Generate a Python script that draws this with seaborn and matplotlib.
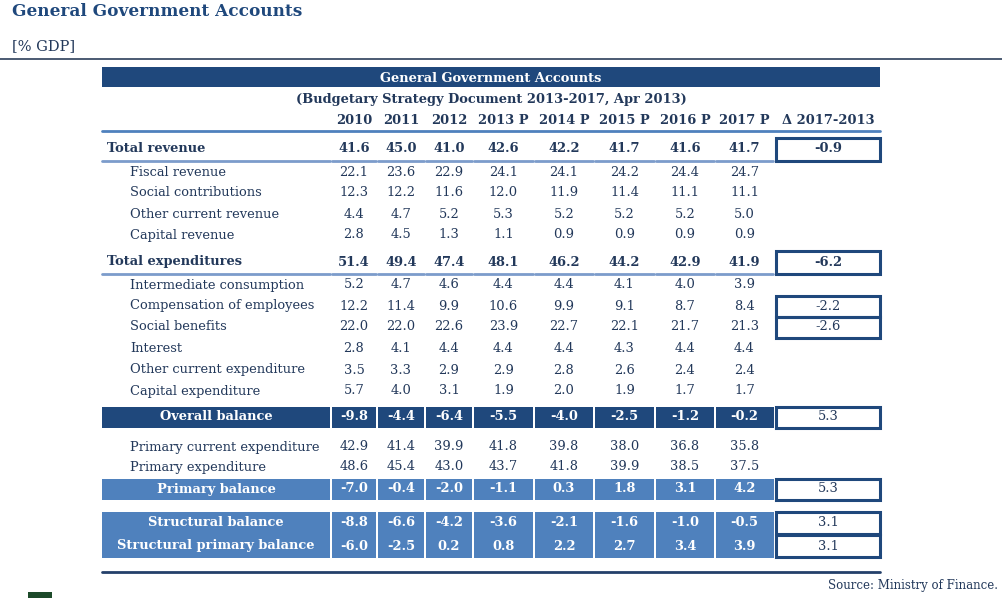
import matplotlib
matplotlib.use("Agg")
import matplotlib.pyplot as plt
from matplotlib.patches import Rectangle
import seaborn as sns

# ---- data ----
years = ["2010", "2011", "2012", "2013 P", "2014 P", "2015 P", "2016 P", "2017 P"]
delta_header = "\u0394 2017-2013"

row_labels = [
    "Total revenue", "Fiscal revenue", "Social contributions", "Other current revenue",
    "Capital revenue", "Total expenditures", "Intermediate consumption",
    "Compensation of employees", "Social benefits", "Interest",
    "Other current expenditure", "Capital expenditure", "Overall balance",
    "Primary current expenditure", "Primary expenditure", "Primary balance",
    "Structural balance", "Structural primary balance",
]
row_kinds = [
    "total", "item", "item", "item", "item", "total", "item", "item", "item", "item",
    "item", "item", "dark", "item", "item", "light", "light", "light",
]
values = [
    [41.6, 45.0, 41.0, 42.6, 42.2, 41.7, 41.6, 41.7],
    [22.1, 23.6, 22.9, 24.1, 24.1, 24.2, 24.4, 24.7],
    [12.3, 12.2, 11.6, 12.0, 11.9, 11.4, 11.1, 11.1],
    [4.4, 4.7, 5.2, 5.3, 5.2, 5.2, 5.2, 5.0],
    [2.8, 4.5, 1.3, 1.1, 0.9, 0.9, 0.9, 0.9],
    [51.4, 49.4, 47.4, 48.1, 46.2, 44.2, 42.9, 41.9],
    [5.2, 4.7, 4.6, 4.4, 4.4, 4.1, 4.0, 3.9],
    [12.2, 11.4, 9.9, 10.6, 9.9, 9.1, 8.7, 8.4],
    [22.0, 22.0, 22.6, 23.9, 22.7, 22.1, 21.7, 21.3],
    [2.8, 4.1, 4.4, 4.4, 4.4, 4.3, 4.4, 4.4],
    [3.5, 3.3, 2.9, 2.9, 2.8, 2.6, 2.4, 2.4],
    [5.7, 4.0, 3.1, 1.9, 2.0, 1.9, 1.7, 1.7],
    [-9.8, -4.4, -6.4, -5.5, -4.0, -2.5, -1.2, -0.2],
    [42.9, 41.4, 39.9, 41.8, 39.8, 38.0, 36.8, 35.8],
    [48.6, 45.4, 43.0, 43.7, 41.8, 39.9, 38.5, 37.5],
    [-7.0, -0.4, -2.0, -1.1, 0.3, 1.8, 3.1, 4.2],
    [-8.8, -6.6, -4.2, -3.6, -2.1, -1.6, -1.0, -0.5],
    [-6.0, -2.5, 0.2, 0.8, 2.2, 2.7, 3.4, 3.9],
]
deltas = {
    "Total revenue": -0.9, "Total expenditures": -6.2,
    "Compensation of employees": -2.2, "Social benefits": -2.6,
    "Overall balance": 5.3, "Primary balance": 5.3,
    "Structural balance": 3.1, "Structural primary balance": 3.1,
}

# ---- layout (pixel space) ----
row_y = [149, 172, 193, 214, 235, 262, 285, 306, 327, 349, 370, 391,
         417, 447, 467, 489, 523, 546]
row_h = [23, 21, 21, 21, 21, 23, 21, 21, 21, 21, 21, 21,
         21, 20, 20, 21, 23, 23]
col_edges = [331, 377, 425, 473, 534, 594, 655, 715, 774]
label_x0, label_x1 = 102, 330
box_x0, box_x1 = 776, 880

navy = "#1f487c"
text_c = "#22385a"
light = "#4f81bd"
line_light = "#7c9ccb"

sns.set_theme(style="white")
plt.rcParams["font.family"] = ["DejaVu Serif"]

fig = plt.figure(figsize=(10.03, 5.98), dpi=100)
ax = fig.add_axes([0, 0, 1, 1])
ax.set_xlim(0, 1003)
ax.set_ylim(598, 0)
ax.axis("off")

fs = 9.4
ax.text(12, 11, "General Government Accounts", fontsize=12.2, fontweight="bold",
        color=navy, va="center", ha="left")
ax.text(12, 46, "[% GDP]", fontsize=10.5, color=text_c, va="center", ha="left")
ax.plot([0, 1003], [58.5, 58.5], color="#2c3e5a", lw=1.2)

# header
ax.add_patch(Rectangle((label_x0, 67), box_x1 - label_x0, 20, color=navy, lw=0))
mid = (label_x0 + box_x1) / 2
ax.text(mid, 78, "General Government Accounts", fontsize=fs, fontweight="bold",
        color="white", ha="center", va="center")
ax.text(mid, 100, "(Budgetary Strategy Document 2013-2017, Apr 2013)", fontsize=fs,
        fontweight="bold", color=text_c, ha="center", va="center")
centers = [(col_edges[i] + col_edges[i + 1]) / 2 for i in range(len(years))]
for cx, yr in zip(centers, years):
    ax.text(cx, 120, yr, fontsize=fs, fontweight="bold", color=text_c,
            ha="center", va="center")
dcx = (box_x0 + box_x1) / 2
ax.text(dcx, 120, delta_header, fontsize=fs, fontweight="bold", color=text_c,
        ha="center", va="center")
ax.plot([label_x0, box_x1], [131, 131], color=light, lw=2)

for lab, kind, vals, y, h in zip(row_labels, row_kinds, values, row_y, row_h):
    bold = kind != "item"
    if kind in ("dark", "light"):
        fc = navy if kind == "dark" else light
        tc = "white"
        ax.add_patch(Rectangle((label_x0, y - h / 2), label_x1 - label_x0, h, color=fc, lw=0))
        for i in range(len(vals)):
            ax.add_patch(Rectangle((col_edges[i] + 1, y - h / 2),
                                   col_edges[i + 1] - col_edges[i] - 2 + (1 if i == len(vals) - 1 else 0),
                                   h, color=fc, lw=0))
        ax.text((label_x0 + label_x1) / 2, y, lab, fontsize=fs, fontweight="bold",
                color=tc, ha="center", va="center")
    else:
        tc = text_c
        lx = 107 if kind == "total" else 130
        ax.text(lx, y, lab, fontsize=fs, fontweight="bold" if bold else "normal",
                color=tc, ha="left", va="center")
        if kind == "total":
            yl = y + 12
            ax.plot([label_x0, label_x1], [yl, yl], color=line_light, lw=2)
            for i in range(len(vals)):
                ax.plot([col_edges[i] + 1, col_edges[i + 1] - 1], [yl, yl],
                        color=line_light, lw=2)
    for cx, v in zip(centers, vals):
        ax.text(cx, y, f"{v:.1f}", fontsize=fs, fontweight="bold" if bold else "normal",
                color=tc, ha="center", va="center")
    if lab in deltas:
        bh = h - 1 if kind == "light" and h > 22 else h
        ax.add_patch(Rectangle((box_x0, y - bh / 2), box_x1 - box_x0, bh, fill=False,
                               ec=navy, lw=2.2))
        ax.text(dcx, y, f"{deltas[lab]:.1f}", fontsize=fs,
                fontweight="bold" if kind == "total" else "normal",
                color=text_c, ha="center", va="center")

ax.plot([label_x0, box_x1], [572, 572], color="#24406a", lw=2)
ax.text(998, 585, "Source: Ministry of Finance.", fontsize=8.5, color=text_c,
        ha="right", va="center")
ax.add_patch(Rectangle((28, 592), 24, 8, color="#1d4a2a", lw=0))

fig.savefig("out.png", dpi=100)
